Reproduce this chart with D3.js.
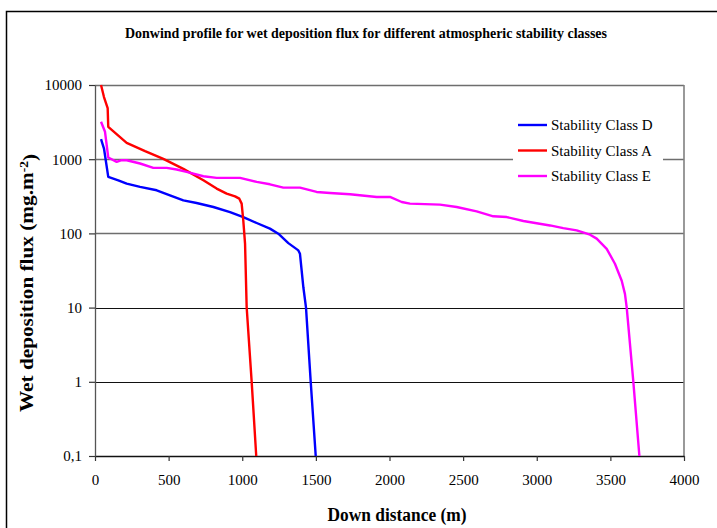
<!DOCTYPE html>
<html>
<head>
<meta charset="utf-8">
<script src="https://cdn.jsdelivr.net/npm/d3@7"></script>
<style>
  body { margin: 0; background: #fff; }
  text { font-family: "Liberation Serif", "Times New Roman", serif; fill: #000; }
</style>
</head>
<body>
<div id="canvas"></div>
<script>
// values (distance in m, flux in mg.m-2)
const distD = [41, 61, 90, 158, 215, 306, 419, 509, 600, 690, 804, 917, 1007, 1098, 1188, 1245, 1313, 1381, 1392, 1415, 1433, 1465, 1499];
const fluxD = [1862, 1393, 577, 520, 469, 423, 381, 326, 279, 257, 227, 194, 166, 138, 116, 99, 74, 59, 53, 18.8, 10, 1.0, 0.1];

const distA = [41, 61, 86, 90, 215, 340, 464, 600, 736, 826, 894, 951, 980, 996, 1007, 1019, 1030, 1064, 1095];
const fluxA = [10000, 6887, 4890, 2732, 1660, 1282, 1009, 740, 520, 402, 344, 316, 294, 252, 150, 73, 10.1, 1.0, 0.1];

const distE = [41, 68, 90, 147, 181, 215, 306, 396, 487, 555, 622, 736, 826, 985, 1098, 1188, 1279, 1392, 1505, 1596, 1732, 1913, 2003, 2083, 2139, 2343, 2456, 2592, 2705, 2796, 2909, 3090, 3180, 3271, 3362, 3407, 3475, 3531, 3577, 3599, 3611, 3656, 3697];
const fluxE = [3191, 2339, 1054, 920, 969, 969, 875, 764, 764, 726, 674, 589, 560, 560, 494, 459, 414, 414, 362, 351, 337, 310, 310, 265, 252, 244, 227, 198, 170, 166, 147, 128, 118, 110, 96, 85, 62, 39, 23, 15.3, 10, 1.0, 0.1];

const seriesNames = ["Stability Class D", "Stability Class A", "Stability Class E"];
const seriesColors = ["#0000ff", "#ff0000", "#ff00ff"];

const xTicks = [0, 500, 1000, 1500, 2000, 2500, 3000, 3500, 4000];
const yTicks = [0.1, 1, 10, 100, 1000, 10000];
const yTickLabels = ["0,1", "1", "10", "100", "1000", "10000"];

const series = [
    { name: seriesNames[0], color: seriesColors[0], pts: distD.map((d, i) => [d, fluxD[i]]) },
    { name: seriesNames[1], color: seriesColors[1], pts: distA.map((d, i) => [d, fluxA[i]]) },
    { name: seriesNames[2], color: seriesColors[2], pts: distE.map((d, i) => [d, fluxE[i]]) }
];

const width = 717;
const height = 528;
const margin = { top: 85, left: 95, bottom: 72, right: 33 };
const iwidth = width - margin.left - margin.right;
const iheight = height - margin.top - margin.bottom;

const svg = d3.select("#canvas").append("svg")
    .attr("width", width)
    .attr("height", height);

// outer chart frame (runs off the right and bottom of the picture)
svg.append("rect")
    .attr("x", 6.5)
    .attr("y", 11.5)
    .attr("width", 800)
    .attr("height", 600)
    .style("fill", "none")
    .style("stroke", "#000")
    .style("stroke-width", 1.5);

const g = svg.append("g").attr("transform", `translate(${margin.left},${margin.top})`);

const x = d3.scaleLinear()
    .domain([0, 4000])
    .range([0, iwidth]);

const y = d3.scaleLog()
    .domain([0.1, 10000])
    .range([iheight, 0]);

// gridlines
g.selectAll(".grid")
    .data(yTicks.slice(1))
    .enter().append("line")
    .attr("class", "grid")
    .attr("x1", 0)
    .attr("x2", iwidth)
    .attr("y1", d => Math.round(y(d)) + 0.5)
    .attr("y2", d => Math.round(y(d)) + 0.5)
    .style("stroke", d => (d >= 100 ? "#6e6e6e" : "#111"))
    .style("stroke-width", d => (d >= 100 ? 1.6 : 1.2));

// right plot border
g.append("line")
    .attr("x1", iwidth).attr("x2", iwidth)
    .attr("y1", 0).attr("y2", iheight)
    .style("stroke", "#808080")
    .style("stroke-width", 1.6);

const xAxis = g.append("g")
    .attr("transform", `translate(0,${iheight})`)
    .call(d3.axisBottom(x).tickValues(xTicks).tickFormat(d3.format("d")).tickSize(5).tickPadding(13).tickSizeOuter(0));
xAxis.attr("font-family", "Liberation Serif");
xAxis.select(".domain").style("stroke", "#111").style("stroke-width", 1.3);
xAxis.selectAll(".tick line").style("stroke", "#333").style("stroke-width", 1.2);
xAxis.selectAll(".tick text").style("font-size", "15px").style("font-family", "Liberation Serif");

const yAxis = g.append("g")
    .call(d3.axisLeft(y).tickValues(yTicks).tickFormat((d, i) => yTickLabels[i]).tickSize(6).tickPadding(7).tickSizeOuter(0));
yAxis.attr("font-family", "Liberation Serif");
yAxis.select(".domain").style("stroke", "#555").style("stroke-width", 1.3);
yAxis.selectAll(".tick line").style("stroke", "#333").style("stroke-width", 1.2);
yAxis.selectAll(".tick text").style("font-size", "15px").style("font-family", "Liberation Serif");

// series lines
const line = d3.line()
    .x(d => x(d[0]))
    .y(d => y(d[1]));

g.selectAll(".series")
    .data(series)
    .enter().append("path")
    .attr("class", "series")
    .attr("d", d => line(d.pts))
    .style("fill", "none")
    .style("stroke", d => d.color)
    .style("stroke-width", 2.4)
    .style("stroke-linejoin", "round");

// legend
const legend = svg.append("g").attr("transform", "translate(513,112)");
legend.append("rect")
    .attr("width", 150)
    .attr("height", 78)
    .style("fill", "#fff");
const item = legend.selectAll(".item")
    .data(series)
    .enter().append("g")
    .attr("class", "item")
    .attr("transform", (d, i) => `translate(0,${13 + i * 25.5})`);
item.append("line")
    .attr("x1", 5).attr("x2", 34)
    .style("stroke", d => d.color)
    .style("stroke-width", 2.4);
item.append("text")
    .attr("x", 38)
    .attr("dy", "0.35em")
    .style("font-size", "15px")
    .text(d => d.name);

// titles
svg.append("text")
    .attr("x", 366)
    .attr("y", 38)
    .attr("text-anchor", "middle")
    .attr("textLength", 482)
    .attr("lengthAdjust", "spacingAndGlyphs")
    .style("font-size", "14px")
    .style("font-weight", "bold")
    .text("Donwind profile for wet deposition flux for different atmospheric stability classes");

svg.append("text")
    .attr("x", 397)
    .attr("y", 521)
    .attr("text-anchor", "middle")
    .attr("textLength", 139)
    .attr("lengthAdjust", "spacingAndGlyphs")
    .style("font-size", "18px")
    .style("font-weight", "bold")
    .text("Down distance (m)");

const ytitle = svg.append("text")
    .attr("transform", `translate(33,${283}) rotate(-90)`)
    .attr("text-anchor", "middle")
    .attr("textLength", 258)
    .attr("lengthAdjust", "spacingAndGlyphs")
    .style("font-size", "19px")
    .style("font-weight", "bold");
ytitle.append("tspan").text("Wet deposition flux (mg.m");
ytitle.append("tspan").attr("dy", "-0.45em").style("font-size", "12px").text("-2");
ytitle.append("tspan").attr("dy", "0.45em").text(")");
</script>
</body>
</html>
